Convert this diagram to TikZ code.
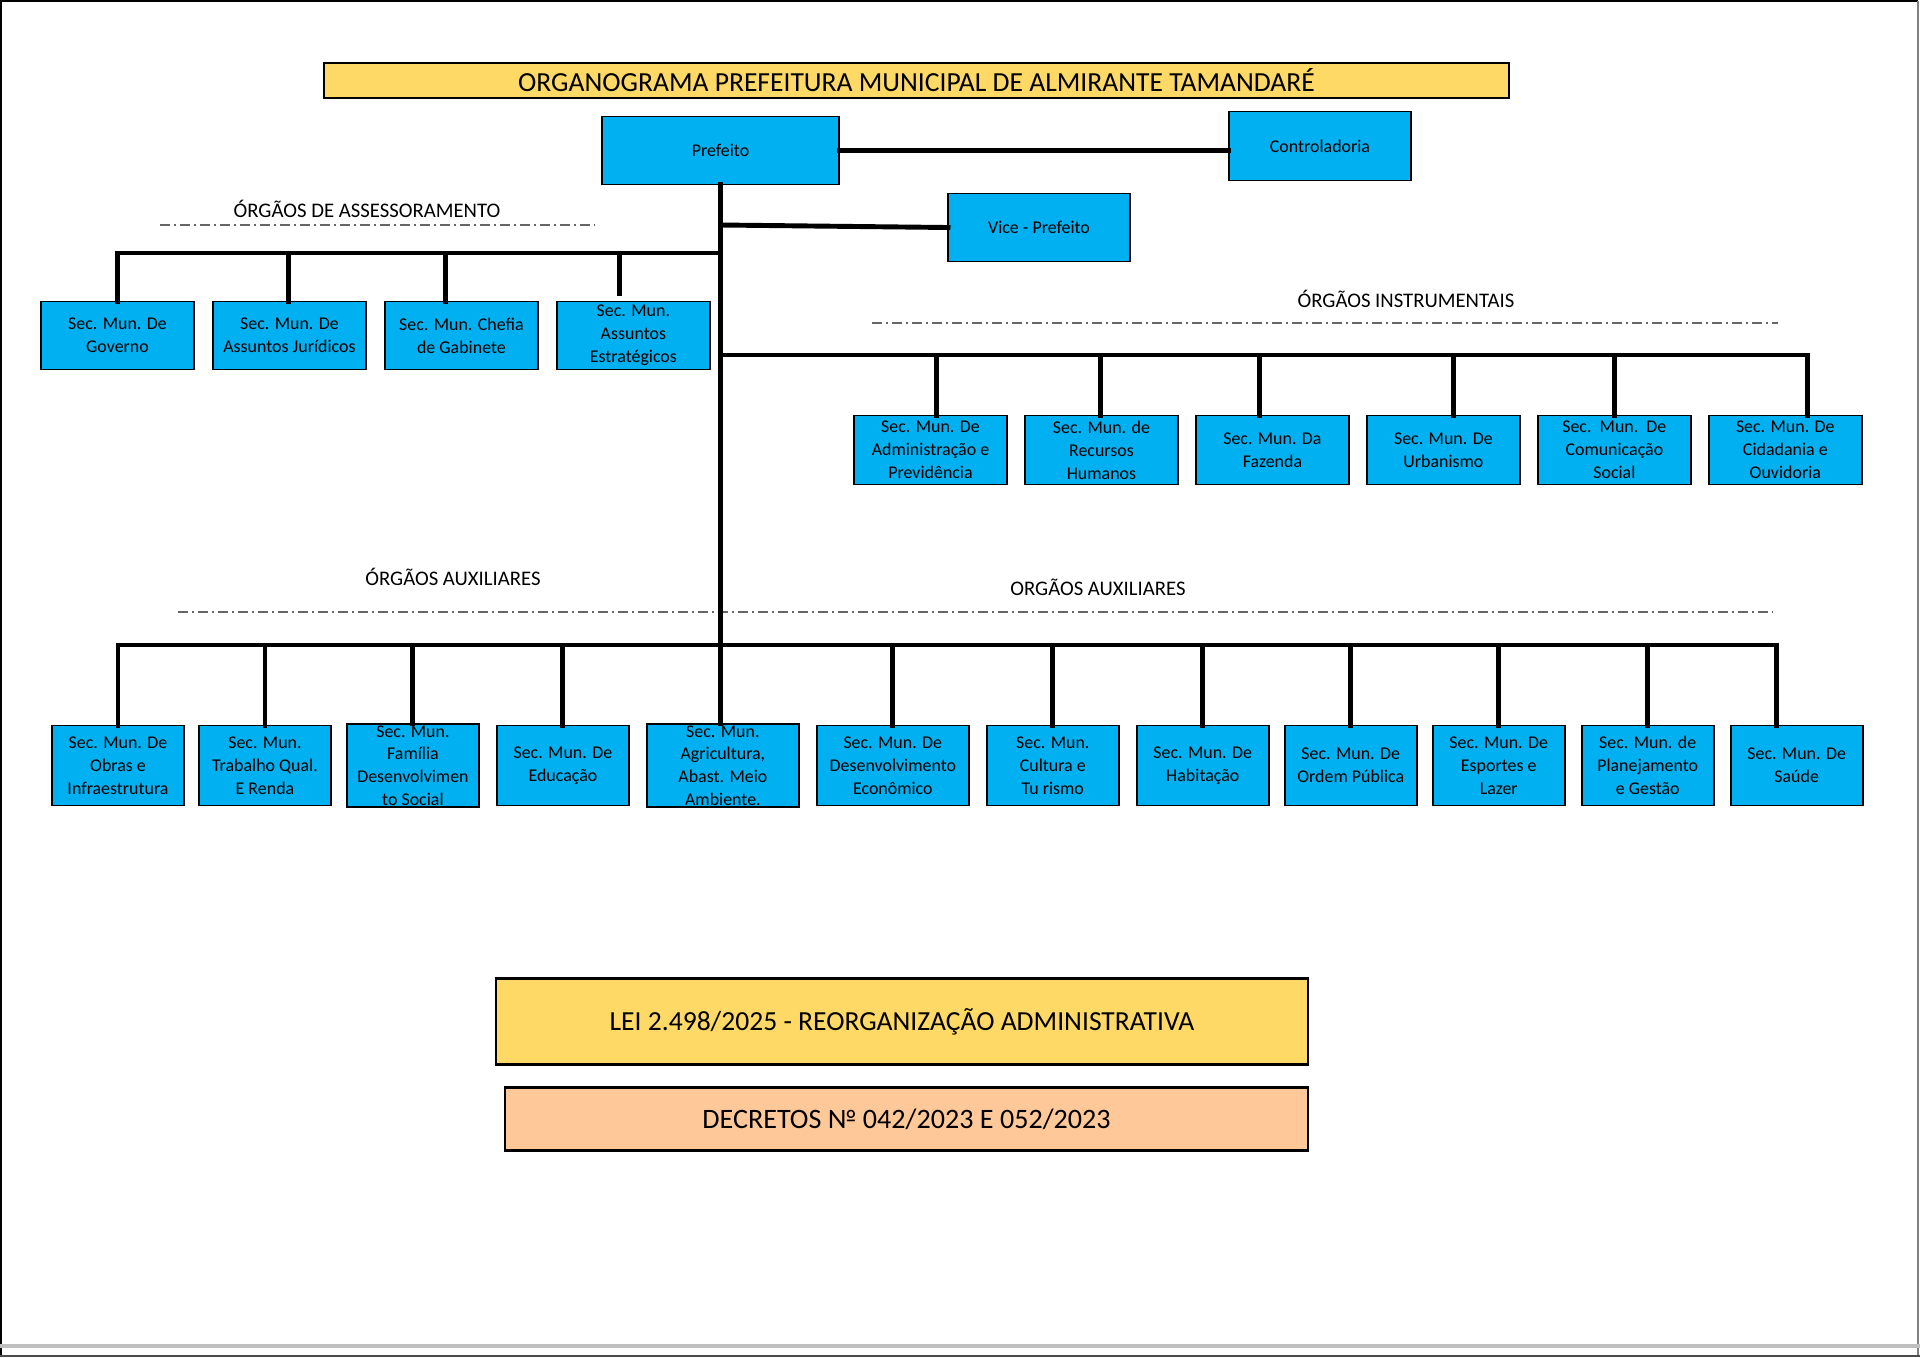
\documentclass[tikz,border=0pt]{standalone}
\usepackage{fontspec}
\setmainfont{Carlito}
\usetikzlibrary{positioning}
\definecolor{azul}{HTML}{00B0F0}
\definecolor{amarelo}{HTML}{FFD966}
\definecolor{pessego}{HTML}{FFC899}

\begin{document}
\begin{tikzpicture}[
  x=0.02cm, y=-0.02cm,
  caixa/.style={rectangle, draw, fill=azul, line width=1.1pt, align=center, inner sep=1pt, outer sep=0pt, font=\fontsize{10.2}{13}\selectfont},
  peq/.style={caixa, minimum width=2.64cm, minimum height=1.6cm},
  larga/.style={caixa, minimum width=3.04cm, minimum height=1.6cm},
  media/.style={caixa, minimum width=3.06cm, minimum height=1.38cm},
  faixa/.style={rectangle, draw, line width=1.3pt, align=center, outer sep=0pt},
  rotulo/.style={font=\fontsize{11.8}{14}\selectfont},
  linha/.style={line width=2.8pt, line cap=rect},
  tracejado/.style={draw=black!60, line width=0.6pt, dash pattern=on 0.2cm off 0.08cm on 0.04cm off 0.08cm}
]
\useasboundingbox (0,0) rectangle (1920,1357);
% moldura
\draw[line width=0.8pt] (1,1357) -- (1,1) -- (1918,1);
\draw[black!50, line width=0.8pt] (1918,1) -- (1918,1357);
\draw[black!25, line width=2pt] (0,1346) -- (1920,1346);
\draw[black!70, line width=0.8pt] (0,1356) -- (1920,1356);

\node[faixa, fill=amarelo, minimum width=23.7cm, minimum height=0.58cm, font=\fontsize{15.7}{18}\selectfont] (titulo) at (916.5,80.5) {ORGANOGRAMA PREFEITURA MUNICIPAL DE ALMIRANTE TAMANDARÉ};

\node[caixa, minimum width=4.74cm, minimum height=1.36cm] (prefeito) at (720.5,150.5) {Prefeito};
\node[caixa, minimum width=3.64cm, minimum height=1.38cm] (controladoria) at (1320,146) {Controladoria};
\node[caixa, minimum width=3.64cm, minimum height=1.36cm] (vice) at (1039,227.5) {Vice - Prefeito};

% orgaos de assessoramento
\node[rotulo] (lassess) at (367,209) {ÓRGÃOS DE ASSESSORAMENTO};
\draw[tracejado] (160,225) -- (595,225);
\node[media, minimum height=1.36cm] (a1) at (117.5,335.5) {Sec. Mun. De\\Governo};
\node[media, minimum height=1.36cm, right=0.38cm of a1] (a2) {Sec. Mun. De\\Assuntos Jurídicos};
\node[media, minimum height=1.36cm, right=0.38cm of a2] (a3) {Sec. Mun. Chefia\\de Gabinete};
\node[media, minimum height=1.36cm, right=0.38cm of a3] (a4) {Sec. Mun.\\Assuntos\\Estratégicos};

% orgaos instrumentais
\node[rotulo] (linstr) at (1406,299) {ÓRGÃOS INSTRUMENTAIS};
\draw[tracejado] (872,323) -- (1778,323);
\node[media] (i1) at (930.5,450) {Sec. Mun. De\\Administração e\\Previdência};
\node[media, right=0.36cm of i1] (i2) {Sec. Mun. de\\Recursos\\Humanos};
\node[media, right=0.36cm of i2] (i3) {Sec. Mun. Da\\Fazenda};
\node[media, right=0.36cm of i3] (i4) {Sec. Mun. De\\Urbanismo};
\node[media, right=0.36cm of i4] (i5) {Sec.\ \ Mun.\ \ De\\Comunicação\\Social};
\node[media, right=0.36cm of i5] (i6) {Sec. Mun. De\\Cidadania e\\Ouvidoria};

% orgaos auxiliares
\node[rotulo] (laux1) at (453,577) {ÓRGÃOS AUXILIARES};
\node[rotulo] (laux2) at (1098,587) {ORGÃOS AUXILIARES};
\draw[tracejado] (178,612) -- (1773,612);
\node[peq] (b1) at (118,765.5) {Sec. Mun. De\\Obras e\\Infraestrutura};
\node[peq, right=0.3cm of b1] (b2) {Sec. Mun.\\Trabalho Qual.\\E Renda};
\node[peq, right=0.32cm of b2] (b3) {Sec. Mun.\\Família\\Desenvolvimen\\to Social};
\node[peq, right=0.36cm of b3] (b4) {Sec. Mun. De\\Educação};
\node[larga, right=0.36cm of b4] (b5) {Sec. Mun.\\Agricultura,\\Abast. Meio\\Ambiente.};
\node[larga, right=0.36cm of b5] (b6) {Sec. Mun. De\\Desenvolvimento\\Econômico};
\node[peq, right=0.36cm of b6] (b7) {Sec. Mun.\\Cultura e\\Tu rismo};
\node[peq, right=0.36cm of b7] (b8) {Sec. Mun. De\\Habitação};
\node[peq, right=0.32cm of b8] (b9) {Sec. Mun. De\\Ordem Pública};
\node[peq, right=0.32cm of b9] (b10) {Sec. Mun. De\\Esportes e\\Lazer};
\node[peq, right=0.34cm of b10] (b11) {Sec. Mun. de\\Planejamento\\e Gestão};
\node[peq, right=0.34cm of b11] (b12) {Sec. Mun. De\\Saúde};

\node[faixa, fill=amarelo, minimum width=16.24cm, minimum height=1.72cm, font=\fontsize{15.7}{19}\selectfont] (lei) at (902,1021.5) {LEI 2.498/2025 - REORGANIZAÇÃO ADMINISTRATIVA};
\node[faixa, fill=pessego, minimum width=16.06cm, minimum height=1.26cm, font=\fontsize{16}{19}\selectfont] (decretos) at (906.5,1119) {DECRETOS № 042/2023 E 052/2023};

% ligacoes
\coordinate (nvice) at (721,225);
\coordinate (nassess) at (721,253);
\coordinate (ninstr) at (721,355);
\coordinate (naux) at (721,645);
\draw[linha] (prefeito.east) -- (prefeito.east -| controladoria.west);
\draw[linha] (prefeito.south) -- (prefeito.south |- b5.north);
\draw[linha] (nvice) -- (vice.west);

\draw[linha] (nassess) -- (a1.north |- nassess);
\foreach \n/\dx in {a1/0, a2/-0.02, a3/-0.32} {
  \draw[linha] ([xshift=\dx cm]\n.north |- nassess) -- ([xshift=\dx cm]\n.north);
}
\draw[linha] ([xshift=-0.28cm]a4.north |- nassess) -- ([xshift=-0.28cm, yshift=0.16cm]a4.north);

\draw[linha] (ninstr) -- ([xshift=0.44cm]i6.north |- ninstr);
\foreach \n/\dx in {i1/0.12, i2/-0.02, i3/-0.26, i4/0.2, i5/0, i6/0.44} {
  \draw[linha] ([xshift=\dx cm]\n.north |- ninstr) -- ([xshift=\dx cm]\n.north);
}

\draw[linha] (b1.north |- naux) -- ([xshift=-0.4cm]b12.north |- naux);
\foreach \n/\dx in {b1/0, b2/0, b3/0, b4/0, b6/0, b7/0, b8/0, b9/0, b10/0, b11/0, b12/-0.4} {
  \draw[linha] ([xshift=\dx cm]\n.north |- naux) -- ([xshift=\dx cm]\n.north);
}
\end{tikzpicture}
\end{document}
